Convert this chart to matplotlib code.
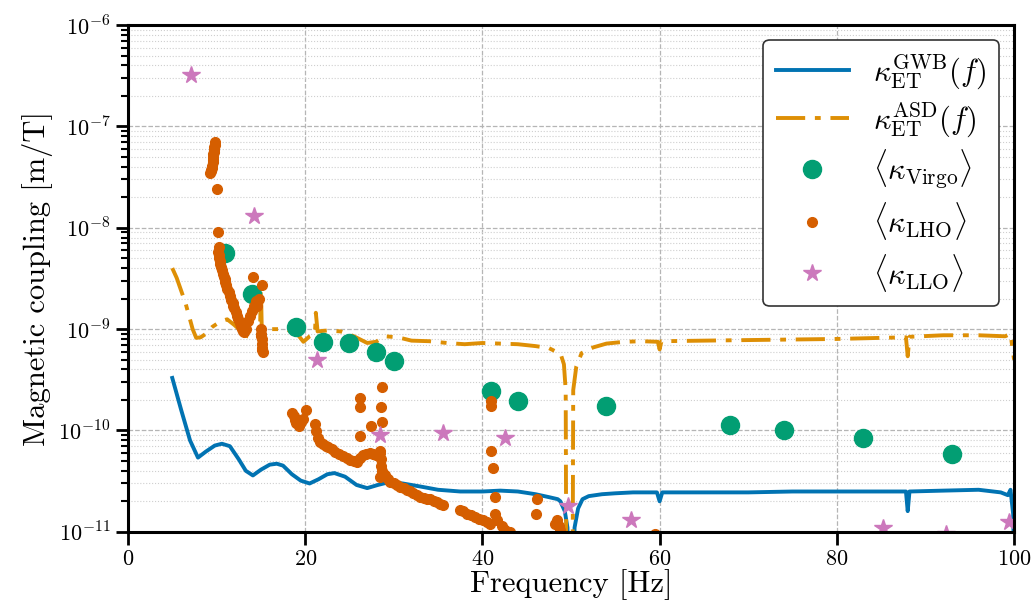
import math
import matplotlib
matplotlib.use("Agg")
import matplotlib.pyplot as plt
from matplotlib.ticker import FuncFormatter, LogLocator, NullFormatter

plt.rcParams['font.family'] = 'serif'
plt.rcParams['font.serif'] = ['cmr10', 'DejaVu Serif']
plt.rcParams['mathtext.fontset'] = 'cm'
plt.rcParams['axes.formatter.use_mathtext'] = True

# ---- ET coupling curves ----
gwb_f = [5.0, 6.0, 7.0, 7.9, 8.8, 9.8, 10.6, 11.5, 12.5, 13.3, 14.1, 15.0, 16.0, 16.8,
         17.5, 18.5, 19.5, 20.5, 21.5, 22.5, 23.3, 24.5, 25.8, 27.0, 28.2, 29.5, 31.0,
         33.0, 35.0, 37.5, 40.0, 42.0, 44.0, 46.0, 47.5, 48.5, 48.8, 49.3, 49.6, 49.7,
         50.3, 50.4, 50.8, 51.3, 52.0, 53.5, 55.0, 57.0, 59.7, 60.0, 60.3, 65.0, 70.0,
         75.0, 80.0, 85.0, 87.8, 88.0, 88.2, 92.0, 96.0, 98.5, 99.3, 99.6, 99.9, 100.0]
gwb_k = [3.3e-10, 1.6e-10, 8.0e-11, 5.4e-11, 6.2e-11, 7.1e-11, 7.4e-11, 7.0e-11, 5.2e-11,
         4.0e-11, 3.6e-11, 4.1e-11, 4.6e-11, 4.7e-11, 4.5e-11, 3.7e-11, 3.2e-11, 3.0e-11,
         3.3e-11, 3.7e-11, 3.8e-11, 3.5e-11, 2.9e-11, 2.7e-11, 2.9e-11, 3.1e-11, 3.0e-11,
         2.8e-11, 2.6e-11, 2.5e-11, 2.5e-11, 2.55e-11, 2.5e-11, 2.35e-11, 2.2e-11, 2.1e-11,
         2.0e-11, 1.6e-11, 1.1e-11, 3e-12, 3e-12, 1.1e-11, 1.7e-11, 2.1e-11, 2.25e-11,
         2.35e-11, 2.4e-11, 2.45e-11, 2.45e-11, 2.0e-11, 2.45e-11, 2.45e-11, 2.45e-11,
         2.5e-11, 2.5e-11, 2.5e-11, 2.5e-11, 1.6e-11, 2.5e-11, 2.55e-11, 2.6e-11, 2.45e-11,
         2.3e-11, 2.6e-11, 1.5e-11, 5e-12]

asd_f = [5.0, 5.5, 6.5, 7.3, 7.7, 8.2, 8.8, 9.5, 10.5, 11.2, 12.0, 12.8, 13.5, 14.2,
         14.9, 15.0, 15.1, 16.0, 17.0, 18.0, 19.0, 19.8, 20.5, 21.1, 21.2, 21.4, 22.5,
         24.0, 25.5, 27.0, 28.0, 29.0, 30.5, 32.0, 34.0, 36.0, 38.0, 40.0, 42.0, 44.0,
         46.0, 47.5, 48.3, 48.8, 49.2, 49.4, 49.45, 49.5, 50.15, 50.2, 50.25, 50.6, 51.2,
         52.5, 54.0, 56.0, 58.0, 59.8, 60.0, 60.2, 65.0, 70.0, 75.0, 80.0, 85.0, 87.8,
         88.0, 88.2, 92.0, 96.0, 99.0, 99.6, 100.0]
asd_k = [4.0e-9, 3.2e-9, 1.8e-9, 1.0e-9, 8.2e-10, 8.3e-10, 9.0e-10, 1.05e-9, 1.2e-9,
         1.25e-9, 1.1e-9, 9.5e-10, 8.5e-10, 8.4e-10, 8.9e-10, 2.8e-9, 1.0e-9, 1.0e-9,
         1.0e-9, 9.8e-10, 9.2e-10, 7.5e-10, 8.5e-10, 9.0e-10, 1.45e-9, 9.5e-10, 9.7e-10,
         9.5e-10, 8.5e-10, 7.3e-10, 7.5e-10, 8.5e-10, 8.3e-10, 7.7e-10, 7.6e-10, 7.3e-10,
         7.1e-10, 7.3e-10, 7.2e-10, 7.1e-10, 6.8e-10, 6.5e-10, 6.0e-10, 5.8e-10, 4.5e-10,
         2.5e-10, 1e-11, 1e-12, 1e-12, 1e-11, 2.5e-10, 4.3e-10, 5.8e-10, 6.6e-10, 7.2e-10,
         7.5e-10, 7.6e-10, 7.5e-10, 6.3e-10, 7.6e-10, 7.7e-10, 7.8e-10, 7.9e-10, 8.0e-10,
         8.2e-10, 8.3e-10, 5.4e-10, 8.4e-10, 8.7e-10, 8.7e-10, 8.5e-10, 9.0e-10, 5.0e-10]

# ---- measured couplings ----
virgo_f = [11, 14, 19, 22, 25, 28, 30, 41, 44, 54, 68, 74, 83, 93]
virgo_k = [5.6e-9, 2.2e-9, 1.05e-9, 7.5e-10, 7.3e-10, 6.0e-10, 4.8e-10, 2.45e-10,
           1.95e-10, 1.75e-10, 1.14e-10, 1.0e-10, 8.5e-11, 5.9e-11]

lho_f = [9.8, 9.78, 9.75, 9.72, 9.7, 9.65, 9.6, 9.57, 9.55, 9.5, 9.45, 9.4, 9.35, 9.3,
         10.0, 10.2, 10.3,
         10.2, 10.25, 10.3, 10.35, 10.4, 10.5, 10.6, 10.7, 10.8, 10.9, 11.0, 11.1, 11.2,
         11.35, 11.5, 11.65, 11.8, 11.9, 12.0, 12.15, 12.3, 12.45, 12.6, 12.75, 12.9,
         13.0, 13.1,
         13.3, 13.5, 13.75, 14.0, 14.2, 14.4, 14.1, 15.1, 14.6, 14.8,
         15.0, 15.0, 15.05, 15.1, 15.1, 15.1, 15.15, 15.2,
         18.5, 18.7, 18.8, 19.0, 19.3, 19.5, 19.8, 20.1, 21.1, 21.2, 21.4, 21.7, 22.0,
         22.3, 22.6, 23.0, 23.4, 23.8, 24.3, 24.7, 25.1, 25.5, 25.8, 26.2, 26.5, 26.9,
         27.3, 27.7, 28.0, 28.4, 28.5, 28.5, 28.6, 28.6, 28.7, 29.0, 29.3, 29.6, 30.0,
         30.4, 30.7, 31.1, 31.5, 31.8, 32.2, 32.6, 33.0, 33.4, 33.8, 34.1, 34.5, 34.9,
         35.2, 35.6,
         37.5, 37.8, 38.3, 38.7, 39.2, 39.6, 40.1, 40.5, 40.9, 41.4, 41.4, 41.6, 42.2,
         42.6, 43.1,
         26.2, 26.2, 28.7, 28.6, 28.7, 27.4, 26.2,
         41.0, 41.0, 41.0, 41.2, 46.2, 46.1, 48.2, 48.4, 48.6, 48.8, 59.5]
lho_k = [7.0e-8, 6.6e-8, 6.3e-8, 5.9e-8, 5.6e-8, 5.3e-8, 5.0e-8, 4.7e-8, 4.5e-8, 4.1e-8,
         3.9e-8, 3.7e-8, 3.6e-8, 3.5e-8,
         2.4e-8, 9.0e-9, 6.5e-9,
         5.8e-9, 5.4e-9, 5.0e-9, 4.7e-9, 4.4e-9, 4.1e-9, 3.8e-9, 3.5e-9, 3.3e-9, 3.1e-9,
         2.9e-9, 2.7e-9, 2.5e-9, 2.3e-9, 2.1e-9, 1.95e-9, 1.8e-9, 1.7e-9, 1.6e-9, 1.47e-9,
         1.35e-9, 1.25e-9, 1.15e-9, 1.07e-9, 1.0e-9, 9.6e-10, 9.3e-10,
         1.0e-9, 1.2e-9, 1.35e-9, 1.5e-9, 1.7e-9, 1.9e-9, 3.3e-9, 2.7e-9, 1.7e-9, 2.0e-9,
         1.0e-9, 9.0e-10, 8.5e-10, 8.0e-10, 7.2e-10, 6.5e-10, 6.2e-10, 6.0e-10,
         1.5e-10, 1.4e-10, 1.26e-10, 1.18e-10, 1.1e-10, 1.2e-10, 1.3e-10, 1.6e-10,
         1.15e-10, 9.8e-11, 8.5e-11, 7.7e-11, 7.4e-11, 7.1e-11, 6.9e-11, 6.5e-11, 6.2e-11,
         5.9e-11, 5.6e-11, 5.4e-11, 5.1e-11, 5.0e-11, 4.9e-11, 5.3e-11, 5.7e-11, 5.9e-11,
         6.0e-11, 5.9e-11, 5.7e-11, 6.0e-11, 6.3e-11, 3.5e-11, 5.2e-11, 4.5e-11, 4.0e-11,
         3.6e-11, 3.3e-11, 3.1e-11, 3.0e-11, 2.9e-11, 2.8e-11, 2.7e-11, 2.6e-11, 2.5e-11,
         2.4e-11, 2.3e-11, 2.2e-11, 2.15e-11, 2.1e-11, 2.1e-11, 2.0e-11, 1.95e-11,
         1.9e-11, 1.85e-11,
         1.65e-11, 1.6e-11, 1.5e-11, 1.45e-11, 1.4e-11, 1.35e-11, 1.3e-11, 1.25e-11,
         1.2e-11, 2.2e-11, 1.5e-11, 1.3e-11, 1.15e-11, 1.05e-11, 1.0e-11,
         2.1e-10, 1.7e-10, 2.7e-10, 1.7e-10, 1.2e-10, 1.1e-10, 8.9e-11,
         1.95e-10, 1.75e-10, 6.3e-11, 4.3e-11, 2.1e-11, 1.5e-11, 1.2e-11, 1.3e-11,
         1.15e-11, 1.05e-11, 9.5e-12]

llo_f = [7.1, 14.2, 21.3, 28.4, 35.5, 42.6, 49.7, 56.8, 85.2, 92.3, 99.4]
llo_k = [3.2e-7, 1.3e-8, 5.0e-10, 9.1e-11, 9.5e-11, 8.5e-11, 1.8e-11, 1.3e-11, 1.1e-11,
         9.5e-12, 1.25e-11]

labels = [r'$\kappa_{\rm ET}^{\rm GWB}(f)$', r'$\kappa_{\rm ET}^{\rm ASD}(f)$',
          r'$\langle\kappa_{\rm Virgo}\rangle$', r'$\langle\kappa_{\rm LHO}\rangle$',
          r'$\langle\kappa_{\rm LLO}\rangle$']


def main():
    fig = plt.figure(figsize=(10.32, 6.12), dpi=100)
    ax = fig.add_axes([0.124, 0.131, 0.8586, 0.828])

    ax.semilogy(gwb_f, gwb_k, color='#0173B2', lw=2.8, label=labels[0])
    ax.semilogy(asd_f, asd_k, color='#DE8F05', lw=2.8, ls=(0, (7.5, 2.5, 1.5, 2.5)),
                label=labels[1])
    ax.semilogy(virgo_f, virgo_k, 'o', color='#029E73', ms=13, ls='none', label=labels[2])
    ax.semilogy(lho_f, lho_k, 'o', color='#D55E00', ms=7, ls='none', label=labels[3])
    ax.semilogy(llo_f, llo_k, '*', color='#CC78BC', ms=13, ls='none', label=labels[4])

    ax.set_xlim(0, 100)
    ax.set_ylim(1e-11, 1e-6)
    ax.set_xticks([0, 20, 40, 60, 80, 100])
    ax.yaxis.set_major_locator(LogLocator(base=10, numticks=10))
    ax.yaxis.set_minor_locator(LogLocator(base=10, subs=range(2, 10), numticks=20))
    ax.yaxis.set_minor_formatter(NullFormatter())
    ax.yaxis.set_major_formatter(FuncFormatter(lambda v, p: r'$10^{%d}$' % round(math.log10(v))))

    ax.grid(True, which='major', ls='--', color='#b5b5b5', lw=0.9)
    ax.grid(True, which='minor', axis='y', ls=':', color='#cfcfcf', lw=0.8)

    for s in ax.spines.values():
        s.set_linewidth(2.2)
    ax.tick_params(which='major', length=9, width=2, labelsize=16)
    ax.tick_params(which='minor', length=5, width=1.5)

    ax.set_xlabel('Frequency [Hz]', fontsize=22, labelpad=0)
    ax.set_ylabel('Magnetic coupling [m/T]', fontsize=22)

    leg = ax.legend(loc='upper right', fontsize=22, fancybox=True, framealpha=1,
                    edgecolor='#333333', handlelength=2.4, labelspacing=0.3)
    leg.get_frame().set_linewidth(1.2)

    fig.savefig('out.png', dpi=100)


if __name__ == '__main__':
    main()
